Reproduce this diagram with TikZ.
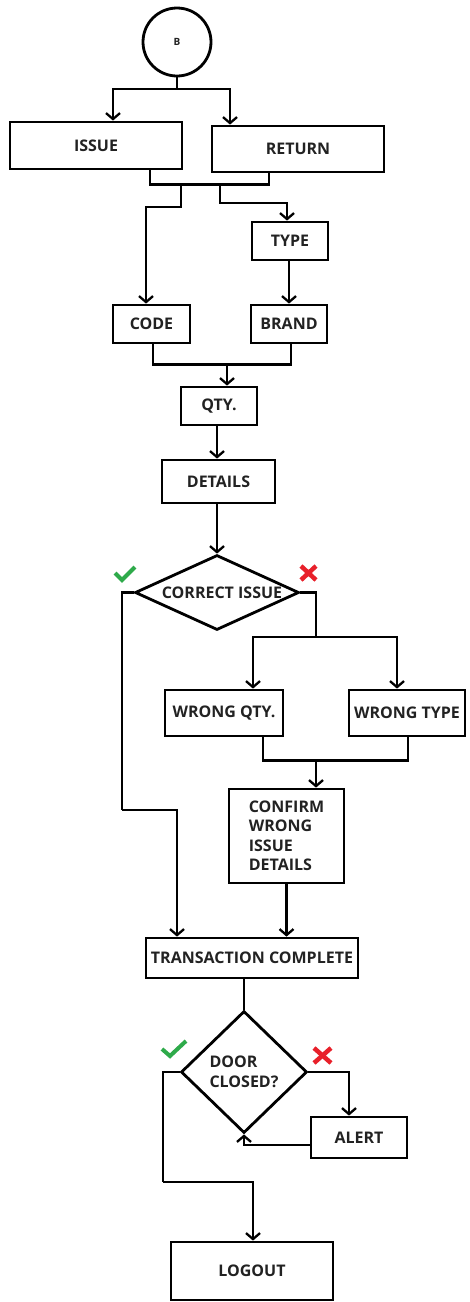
\documentclass[tikz,border=0pt]{standalone}
\usepackage{fontspec}
\setmainfont{Open Sans}
\usetikzlibrary{arrows.meta,shapes.geometric}
\definecolor{txt}{HTML}{222222}
\definecolor{okgreen}{HTML}{2EAA4A}
\definecolor{nored}{HTML}{E8202A}
\tikzset{
  ln/.style={line width=2.8pt, line join=miter},
  arr/.style={ln, -{Straight Barb[length=6pt,width=14pt,line width=2.3pt]}},
  box/.style={draw, line width=2.8pt, inner sep=0pt, text=txt,
     font=\fontsize{16}{19.5}\selectfont\bfseries},
  dia/.style={draw, diamond, line width=2.8pt, inner sep=0pt, inner xsep=-8pt, text=txt,
     font=\fontsize{16}{19.5}\selectfont\bfseries},
  tick/.style={line width=4pt, draw=okgreen, line cap=butt, line join=miter},
  cross/.style={line width=4.5pt, draw=nored}
}
\begin{document}
\begin{tikzpicture}[x=1pt,y=-1pt]
\useasboundingbox (0,0) rectangle (469,1302);
% nodes
\node[draw, circle, line width=2.8pt, minimum size=68pt, inner sep=0pt, text=txt,
      font=\fontsize{10}{12}\selectfont\bfseries] (B) at (177,42) {B};
\node[box, minimum width=172pt, minimum height=47pt] (issue) at (96,145.5) {ISSUE};
\node[box, minimum width=172pt, minimum height=46pt] (return) at (298,149) {RETURN};
\node[box, minimum width=76pt, minimum height=38pt] (type) at (290,241) {TYPE};
\node[box, minimum width=77pt, minimum height=38pt] (code) at (151.5,324) {CODE};
\node[box, minimum width=76pt, minimum height=38pt] (brand) at (289,324) {BRAND};
\node[box, minimum width=76pt, minimum height=38pt] (qty) at (219,406) {QTY.};
\node[box, minimum width=113pt, minimum height=43pt] (details) at (218.5,481.5) {DETAILS};
\node[dia, minimum width=164pt, minimum height=75pt, aspect=2.19] (dec1) at (217,592.5) {\hspace*{10pt}CORRECT ISSUE};
\node[box, minimum width=118pt, minimum height=46pt] (wqty) at (224,713) {WRONG QTY.};
\node[box, minimum width=116pt, minimum height=46pt] (wtype) at (407,713) {WRONG TYPE};
\node[box, minimum width=115pt, minimum height=94pt, align=left] (confirm) at (286.5,836) {CONFIRM\\WRONG\\ISSUE\\DETAILS};
\node[box, minimum width=212pt, minimum height=40pt] (trans) at (252,958) {TRANSACTION COMPLETE};
\node[dia, minimum width=126pt, minimum height=122pt, aspect=1.03, align=left] (dec2) at (244,1072) {DOOR\\CLOSED?};
\node[box, minimum width=96pt, minimum height=41pt] (alert) at (359,1137.5) {ALERT};
\node[box, minimum width=162pt, minimum height=58pt] (logout) at (252,1271) {LOGOUT};
% junctions
\coordinate (j1) at (177,89);
\coordinate (j2) at (181,183);
\coordinate (j3) at (220,183);
\coordinate (j4) at (227,363);
\coordinate (j5) at (122,810);
\coordinate (j6) at (316,637);
\coordinate (j7) at (316,759);
\coordinate (j8) at (163,1182);
% connectors
\draw[ln] (B.south) -- (j1);
\draw[arr] (j1) -| ([xshift=17pt]issue.north);
\draw[arr] (j1) -| ([xshift=-68pt]return.north);
\draw[ln] ([xshift=54pt]issue.south) -- ++(0,14) -| ([xshift=-29pt]return.south);
\draw[arr] (j2) -- ++(0,24) -| ([xshift=-5.5pt]code.north);
\draw[arr] (j3) -- ++(0,20) -| ([xshift=-3pt]type.north);
\draw[arr] ([xshift=-1pt]type.south) -- (brand.north);
\draw[ln] ([xshift=1.5pt]code.south) -- ++(0,20) -| ([xshift=2pt]brand.south);
\draw[arr] (j4) -- ([xshift=8pt]qty.north);
\draw[arr] ([xshift=-2pt]qty.south) -- ([xshift=-1.5pt]details.north);
\draw[arr] ([xshift=-1.5pt]details.south) -- (dec1.north);
\draw[ln] (dec1.west) -| (j5);
\draw[arr] (j5) -| ([xshift=-75pt]trans.north);
\draw[ln] (dec1.east) -| (j6);
\draw[arr] (j6) -| ([xshift=29pt]wqty.north);
\draw[arr] (j6) -| ([xshift=-10pt]wtype.north);
\draw[ln] ([xshift=39pt]wqty.south) -- ++(0,23) -| ([xshift=1pt]wtype.south);
\draw[arr] (j7) -- ([xshift=29.5pt]confirm.north);
\draw[arr] (confirm.south) -- (confirm.south |- trans.north);
\draw[ln] (trans.south -| dec2.north) -- (dec2.north);
\draw[arr] (dec2.east) -| ([xshift=-10pt]alert.north);
\draw[arr] ([yshift=-7.5pt]alert.west) -| (dec2.south);
\draw[ln] (dec2.west) -| (j8);
\draw[arr] (j8) -| ([xshift=1pt]logout.north);
% marks
\draw[tick] (115,573) -- (122,580) -- (135,567);
\draw[cross] (301,566) -- (316,580) (316,566) -- (301,580);
\draw[tick] (162,1049) -- (170,1056) -- (186,1041);
\draw[cross] (314,1048) -- (331,1063) (331,1048) -- (314,1063);
\end{tikzpicture}
\end{document}
